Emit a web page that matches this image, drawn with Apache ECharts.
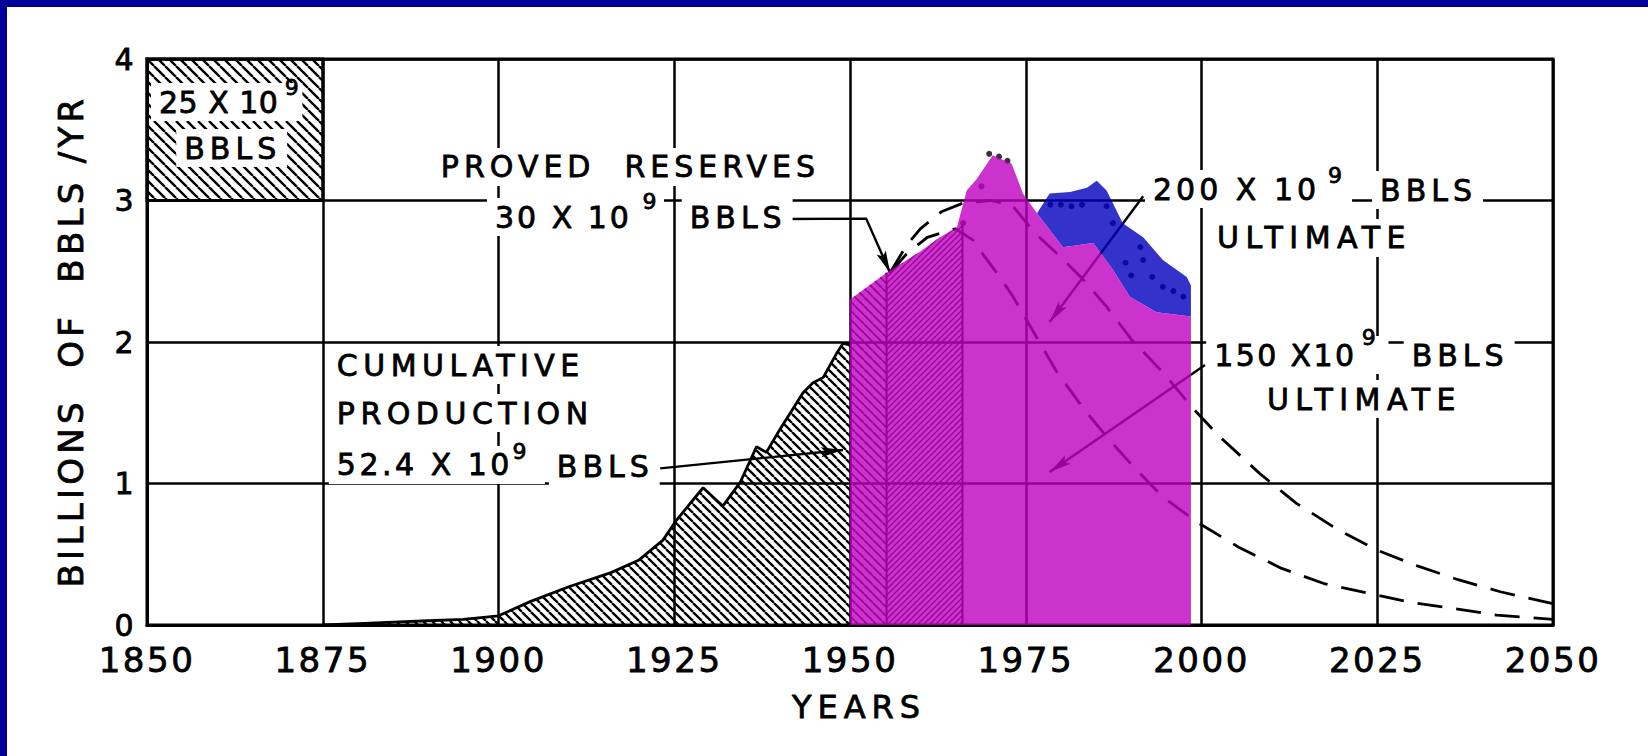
<!DOCTYPE html>
<html>
<head>
<meta charset="utf-8">
<script src="https://cdn.jsdelivr.net/npm/echarts@6.0.0/dist/echarts.min.js"></script>
<style>
html, body { margin: 0; padding: 0; background: #fff; }
#chart { width: 1648px; height: 756px; }
#chart text { white-space: pre; }
</style>
</head>
<body>
<div id="chart"></div>
<script>
const FONT = "'DejaVu Sans', sans-serif";

// 25 x 10^9 box (years, billions of bbls/yr)
const boxYears = [1850, 1875];
const boxValues = [3, 4];

// cumulative production up to 1950
const histYears = [1875, 1880, 1885, 1890, 1895, 1900, 1904.5, 1910, 1916, 1920, 1923.4, 1925.3, 1929.1, 1931.9, 1934.4, 1936.7, 1938.1, 1940, 1943.3, 1944.7, 1946.2, 1948.1, 1949, 1950];
const histValues = [0, 0.01, 0.02, 0.03, 0.04, 0.065, 0.165, 0.27, 0.37, 0.46, 0.60, 0.74, 0.97, 0.84, 1.01, 1.26, 1.22, 1.38, 1.64, 1.71, 1.75, 1.92, 1.99, 1.98];

// proved reserves (two hatched blocks)
const resYearsA = [1950, 1955.2];
const resTopA = [2.30, 2.49];
const resYearsB = [1955.2, 1960, 1962.8, 1966];
const resTopB = [2.49, 2.64, 2.74, 2.83];

// ultimate curves
const u200Years = [1955.7, 1958, 1960, 1963, 1966, 1970, 1973, 1976.5, 1980, 1983, 1986.5, 1990, 1994.6, 1998.8, 2002.6, 2008.3, 2013.5, 2019.2, 2024.9, 2030.6, 2036.5, 2042.5, 2050];
const u200Values = [2.49, 2.68, 2.80, 2.92, 2.98, 3.00, 2.97, 2.76, 2.60, 2.45, 2.25, 2.02, 1.78, 1.53, 1.33, 1.07, 0.86, 0.68, 0.53, 0.42, 0.32, 0.235, 0.15];
const u150Years = [1955.7, 1958, 1961, 1965, 1967.5, 1969.5, 1971.3, 1973.2, 1976, 1979.4, 1983.2, 1986.5, 1990.3, 1994.6, 1999.6, 2005.3, 2011.4, 2017.6, 2024.2, 2029.7, 2035.4, 2042, 2050];
const u150Values = [2.49, 2.62, 2.74, 2.80, 2.72, 2.58, 2.46, 2.32, 2.08, 1.79, 1.53, 1.33, 1.12, 0.90, 0.72, 0.55, 0.40, 0.29, 0.22, 0.16, 0.12, 0.07, 0.04];

// actual production overlay (purple) and Alaska band (blue)
const purpleYears = [1950, 1955.2, 1960, 1962.8, 1965.2, 1966.6, 1968, 1970.3, 1973, 1974.6, 1976.6, 1980.3, 1984.6, 1987.4, 1989.8, 1993.6, 1998.5];
const purpleTop = [2.30, 2.49, 2.64, 2.74, 2.81, 3.07, 3.15, 3.32, 3.26, 3.05, 2.91, 2.67, 2.70, 2.51, 2.32, 2.21, 2.18];
const blueYears = [1976.6, 1978.4, 1981.3, 1983.7, 1985.1, 1986.5, 1988.8, 1991.7, 1994.5, 1997.9, 1998.5];
const blueTop = [2.91, 3.05, 3.06, 3.09, 3.14, 3.07, 2.84, 2.74, 2.58, 2.46, 2.40];

// dotted marks
const dotYears = [1966.1, 1968.7, 1969.8, 1971.2, 1972.4, 1978.5, 1980, 1981.5, 1983, 1986.5, 1987.4, 1989.2, 1990, 1991.3, 1991.7, 1993, 1994.5, 1996, 1997.4];
const dotValues = [2.84, 3.10, 3.33, 3.31, 3.28, 2.97, 2.97, 2.96, 2.97, 2.96, 2.84, 2.56, 2.47, 2.67, 2.58, 2.46, 2.39, 2.36, 2.32];

// leader lines / arrows (data coordinates)
const dividers = [
  [[1955.2, 0], [1955.2, 2.49]],
  [[1966, 0], [1966, 2.83]]
];
const arrowPaths = [
  [[1940.9, 2.869], [1952.3, 2.872], [1955.7, 2.49]],
  [[1923.0, 1.107], [1949.0, 1.237]],
  [[1991.7, 3.03], [1978.4, 2.141]],
  [[2000.5, 1.837], [1978.4, 1.081]]
];

// annotations
const noteText = ['25 X 10', '9', 'BBLS', 'PROVED  RESERVES', '30 X 10', '9', 'BBLS', 'CUMULATIVE', 'PRODUCTION', '52.4 X 10', '9', 'BBLS', '200 X 10', '9', 'BBLS', 'ULTIMATE', '150 X10', '9', 'BBLS', 'ULTIMATE'];
const noteYear = [1851.7, 1869.6, 1855.3, 1891.8, 1899.5, 1920.5, 1927.2, 1877.0, 1877.0, 1877.0, 1902.0, 1908.3, 1993.1, 2018.0, 2025.4, 2002.2, 2001.8, 2022.8, 2029.9, 2009.3];
const noteValue = [3.696, 3.80, 3.371, 3.237, 2.883, 2.996, 2.883, 1.837, 1.498, 1.131, 1.223, 1.12, 3.081, 3.18, 3.074, 2.735, 1.908, 2.035, 1.908, 1.597];

const SPACING = {
  '25 X 10': 0.5, 'BBLS': 5, 'PROVED  RESERVES': 5, '30 X 10': 3, 'CUMULATIVE': 5.5,
  'PRODUCTION': 5.5, '52.4 X 10': 3.5, '200 X 10': 4, 'ULTIMATE': 6.5, '150 X10': 2.4,
  '9': 0, 'YEARS': 6, 'BILLIONS  OF  BBLS /YR': 4.3
};

const pairs = (xs, ys) => xs.map((x, i) => [x, ys[i]]);

function hatch(size, dir, width, color) {
  const c = document.createElement('canvas');
  c.width = c.height = size;
  const g = c.getContext('2d');
  g.strokeStyle = color;
  g.lineWidth = width;
  g.beginPath();
  for (let k = -1; k <= 1; k++) {
    if (dir === 'back') { g.moveTo(k * size, 0); g.lineTo(k * size + size, size); }
    else { g.moveTo(k * size, size); g.lineTo(k * size + size, 0); }
  }
  g.stroke();
  return { image: c, repeat: 'repeat', imageWidth: size, imageHeight: size };
}

const boxHatch = hatch(11, 'back', 2.4, '#000');
const histHatch = hatch(9, 'back', 2.3, '#000');
const resHatchA = hatch(9, 'back', 1.6, '#000');
const resHatchB = hatch(6, 'fwd', 1.3, '#000');

const chart = echarts.init(document.getElementById('chart'), null, { renderer: 'svg' });

const tickLabel = {
  color: '#000', fontSize: 34, fontFamily: FONT,
  textBorderColor: '#000', textBorderWidth: 0.8
};

const option = {
  backgroundColor: '#fff',
  animation: false,
  grid: { left: 147, top: 59, width: 1406, height: 566, show: true, borderColor: '#000', borderWidth: 3 },
  xAxis: {
    type: 'value', min: 1850, max: 2050, interval: 25,
    axisLine: { show: true, lineStyle: { color: '#000', width: 3 } },
    axisTick: { show: false },
    axisLabel: Object.assign({}, tickLabel, { margin: 18, formatter: (v) => String(v) }),
    splitLine: { show: true, lineStyle: { color: '#000', width: 2.5 } }
  },
  yAxis: {
    type: 'value', min: 0, max: 4, interval: 1,
    axisLine: { show: true, lineStyle: { color: '#000', width: 3 } },
    axisTick: { show: false },
    axisLabel: Object.assign({}, tickLabel, { fontSize: 30, margin: 11 }),
    splitLine: { show: true, lineStyle: { color: '#000', width: 2.5 } }
  },
  graphic: [
    { type: 'rect', shape: { x: 0, y: 0, width: 1648, height: 7 }, style: { fill: '#000099' }, z: 100 },
    { type: 'rect', shape: { x: 0, y: 0, width: 7, height: 756 }, style: { fill: '#000099' }, z: 100 },
    { type: 'text', x: 859, y: 707, style: { text: 'YEARS', font: '32px ' + FONT, fill: '#000', align: 'center', verticalAlign: 'middle', stroke: '#000', lineWidth: 0.8 } },
    { type: 'text', x: 71, y: 341, rotation: Math.PI / 2, style: { text: 'BILLIONS  OF  BBLS /YR', font: '34px ' + FONT, fill: '#000', align: 'center', verticalAlign: 'middle', stroke: '#000', lineWidth: 0.8 } }
  ],
  series: [
    {
      name: 'box', type: 'custom', clip: false, silent: true, z: 2,
      data: [[boxYears[0], boxValues[0]]],
      renderItem: (params, api) => {
        const a = api.coord([boxYears[0], boxValues[1]]);
        const b = api.coord([boxYears[1], boxValues[0]]);
        return { type: 'rect', shape: { x: a[0], y: a[1], width: b[0] - a[0], height: b[1] - a[1] },
          style: { fill: boxHatch, stroke: '#000', lineWidth: 3 } };
      }
    },
    {
      name: 'cumulative', type: 'line', z: 2, silent: true, symbol: 'none',
      data: pairs(histYears, histValues),
      lineStyle: { color: '#000', width: 2.8 },
      areaStyle: { color: histHatch, opacity: 1 }
    },
    {
      name: 'reservesA', type: 'line', z: 2, silent: true, symbol: 'none',
      data: pairs(resYearsA, resTopA),
      lineStyle: { width: 0 },
      areaStyle: { color: resHatchA, opacity: 1 }
    },
    {
      name: 'reservesB', type: 'line', z: 2, silent: true, symbol: 'none',
      data: pairs(resYearsB, resTopB),
      lineStyle: { width: 0 },
      areaStyle: { color: resHatchB, opacity: 1 }
    },
    {
      name: 'u200', type: 'line', z: 2, silent: true, symbol: 'none',
      data: pairs(u200Years, u200Values),
      lineStyle: { color: '#000', width: 2.8, type: [25, 14] }
    },
    {
      name: 'u150', type: 'line', z: 2, silent: true, symbol: 'none',
      data: pairs(u150Years, u150Values),
      lineStyle: { color: '#000', width: 2.8, type: [25, 14] }
    },
    {
      name: 'dots', type: 'scatter', z: 2, silent: true,
      data: pairs(dotYears, dotValues),
      symbolSize: 6, itemStyle: { color: '#000' }
    },
    {
      name: 'dividers', type: 'custom', clip: false, silent: true, z: 2,
      data: dividers.map((d) => d[0]),
      renderItem: (params, api) => {
        const d = dividers[params.dataIndex];
        return { type: 'polyline', shape: { points: d.map((p) => api.coord(p)) },
          style: { stroke: '#000', lineWidth: 2, fill: null } };
      }
    },
    {
      name: 'arrows', type: 'custom', clip: false, silent: true, z: 2,
      data: arrowPaths.map((d) => d[0]),
      renderItem: (params, api) => {
        const pts = arrowPaths[params.dataIndex].map((p) => api.coord(p));
        const tip = pts[pts.length - 1], prev = pts[pts.length - 2];
        const dx = tip[0] - prev[0], dy = tip[1] - prev[1];
        const len = Math.sqrt(dx * dx + dy * dy);
        const ux = dx / len, uy = dy / len;
        const hl = 22, hw = 5;
        const bx = tip[0] - ux * hl, by = tip[1] - uy * hl;
        return { type: 'group', children: [
          { type: 'polyline', shape: { points: pts }, style: { stroke: '#000', lineWidth: 2.4, fill: null } },
          { type: 'polygon', shape: { points: [tip, [bx - uy * hw, by + ux * hw], [tip[0] - ux * hl * 0.8, tip[1] - uy * hl * 0.8], [bx + uy * hw, by - ux * hw]] },
            style: { fill: '#000' } }
        ] };
      }
    },
    {
      name: 'alaska', type: 'custom', clip: false, silent: true, z: 3,
      data: [[blueYears[0], blueTop[0]]],
      renderItem: (params, api) => {
        const top = blueYears.map((y, i) => api.coord([y, blueTop[i]]));
        const base = [];
        purpleYears.forEach((y, i) => { if (y >= blueYears[0]) base.push(api.coord([y, purpleTop[i]])); });
        return { type: 'polygon', shape: { points: top.concat(base.reverse()) },
          style: { fill: 'rgba(0,0,191,0.8)' } };
      }
    },
    {
      name: 'production', type: 'line', z: 3, silent: true, symbol: 'none',
      data: pairs(purpleYears, purpleTop),
      lineStyle: { width: 0 },
      areaStyle: { color: 'rgba(191,0,191,0.8)', opacity: 1 }
    },
    {
      name: 'notes', type: 'custom', clip: false, silent: true, z: 4,
      data: pairs(noteYear, noteValue),
      renderItem: (params, api) => {
        const i = params.dataIndex, t = noteText[i];
        const p = api.coord([noteYear[i], noteValue[i]]);
        const sup = t === '9';
        const ls = SPACING[t] || 0;
        const supPad = noteText[i + 1] === '9' ? (i === 0 ? 18 : 26) : 0;
        return { type: 'text', x: sup ? p[0] : p[0] - 8, y: p[1],
          style: { text: t, fill: '#000', font: (sup ? 22 : 30) + 'px ' + FONT,
            stroke: '#000', lineWidth: 0.8,
            align: 'left', verticalAlign: 'middle',
            backgroundColor: sup ? null : '#fff',
            padding: sup ? 0 : [4, 6 + ls * t.length + supPad, 4, 8] } };
      }
    }
  ]
};

chart.setOption(option);

function spaceLetters() {
  document.querySelectorAll('#chart text').forEach((el) => {
    const s = SPACING[el.textContent];
    el.style.letterSpacing = (s == null ? 2.5 : s) + 'px';
  });
}
spaceLetters();
chart.on('finished', spaceLetters);
setTimeout(spaceLetters, 50);
</script>
</body>
</html>
